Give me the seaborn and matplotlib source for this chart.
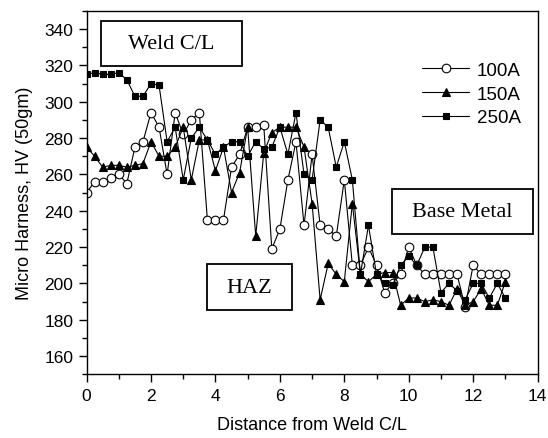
import numpy as np
import matplotlib.pyplot as plt
import pandas as pd
import seaborn as sns
from matplotlib.patches import Rectangle
from matplotlib.ticker import MultipleLocator

# Distance from weld centre line (sample positions)
distance = [0, 0.25, 0.5, 0.75, 1, 1.25, 1.5, 1.75, 2, 2.25, 2.5, 2.75, 3, 3.25,
            3.5, 3.75, 4, 4.25, 4.5, 4.75, 5, 5.25, 5.5, 5.75, 6, 6.25, 6.5, 6.75,
            7, 7.25, 7.5, 7.75, 8, 8.25, 8.5, 8.75, 9, 9.25, 9.5, 9.75, 10, 10.25,
            10.5, 10.75, 11, 11.25, 11.5, 11.75, 12, 12.25, 12.5, 12.75, 13]

# Micro hardness
hv_100a = [250, 256, 256, 258, 260, 255, 275, 278, 294, 286, 260, 294, 282, 290,
           294, 235, 235, 235, 264, 271, 286, 286, 287, 219, 230, 257, 278, 232,
           271, 232, 230, 226, 257, 210, 210, 220, 210, 195, 200, 205, 220, 210,
           205, 205, 205, 205, 205, 187, 210, 205, 205, 205, 205]
hv_150a = [275, 270, 264, 265, 265, 264, 265, 266, 278, 270, 270, 275, 286, 257,
           279, 279, 262, 275, 250, 261, 286, 226, 272, 283, 286, 286, 286, 275,
           244, 191, 211, 205, 201, 244, 205, 201, 205, 206, 206, 188, 192, 192,
           190, 191, 190, 188, 197, 188, 190, 197, 188, 188, 201]
hv_250a = [315, 316, 315, 315, 316, 312, 303, 303, 310, 309, 278, 286, 257, 280,
           286, 279, 271, 275, 278, 278, 270, 278, 274, 275, 286, 271, 294, 260,
           257, 290, 286, 264, 278, 257, 205, 232, 205, 200, 199, 210, 215, 210,
           220, 220, 195, 200, 196, 191, 200, 200, 192, 200, 192]

series = {'100A': hv_100a, '150A': hv_150a, '250A': hv_250a}
df = pd.DataFrame({
    'Distance': distance * 3,
    'HV': hv_100a + hv_150a + hv_250a,
    'Current': sum([[k] * len(distance) for k in series], []),
})

sns.set_style('ticks')
plt.rcParams['font.family'] = ['Liberation Sans', 'DejaVu Sans']
plt.rcParams['text.color'] = 'black'
plt.rcParams['axes.labelcolor'] = 'black'
plt.rcParams['xtick.color'] = 'black'
plt.rcParams['ytick.color'] = 'black'

fig, ax = plt.subplots(figsize=(5.48, 4.39), dpi=100)
fig.subplots_adjust(left=0.158, right=0.981, bottom=0.145, top=0.973)

styles = {
    '100A': dict(marker='o', markerfacecolor='white', markersize=6.2),
    '150A': dict(marker='^', markerfacecolor='black', markersize=6),
    '250A': dict(marker='s', markerfacecolor='black', markersize=5),
}
for name, kw in styles.items():
    sns.lineplot(data=df[df['Current'] == name], x='Distance', y='HV', ax=ax,
                 color='black', linewidth=0.8, markeredgecolor='black',
                 markeredgewidth=0.8, label=name, **kw)

ax.set_xlim(0, 14)
ax.set_ylim(150, 350)
ax.xaxis.set_major_locator(MultipleLocator(2))
ax.xaxis.set_minor_locator(MultipleLocator(1))
ax.yaxis.set_major_locator(MultipleLocator(20))
ax.yaxis.set_minor_locator(MultipleLocator(10))
ax.set_yticks(np.arange(160, 341, 20))
ax.tick_params(which='major', length=6, width=1, labelsize=12.5,
               color='black', labelcolor='black')
ax.tick_params(which='minor', length=3.5, width=1, color='black')
for sp in ax.spines.values():
    sp.set_color('black')
    sp.set_linewidth(1)

ax.set_xlabel('Distance from Weld C/L', fontsize=13, labelpad=10, color='black')
ax.set_ylabel('Micro Harness, HV (50gm)', fontsize=13, labelpad=8, color='black')

leg = ax.legend(loc='upper left', bbox_to_anchor=(0.744, 0.86), frameon=False,
                fontsize=13.5, handlelength=2.5, handletextpad=0.4,
                labelspacing=0.35, borderpad=0, borderaxespad=0)
for t in leg.get_texts():
    t.set_color('black')

# Region annotation boxes
boxes = [
    ('Weld C/L', (0.031, 0.848, 0.313, 0.123)),
    ('HAZ', (0.267, 0.176, 0.189, 0.127)),
    ('Base Metal', (0.678, 0.385, 0.312, 0.124)),
]
for txt, (x0, y0, w, h) in boxes:
    ax.add_patch(Rectangle((x0, y0), w, h, transform=ax.transAxes, fill=False,
                           edgecolor='black', linewidth=1.3, zorder=5))
    ax.text(x0 + w / 2, y0 + h / 2, txt, transform=ax.transAxes, ha='center',
            va='center', fontsize=16, family='Liberation Serif', color='black',
            zorder=6)

plt.savefig('out.png', dpi=100)
